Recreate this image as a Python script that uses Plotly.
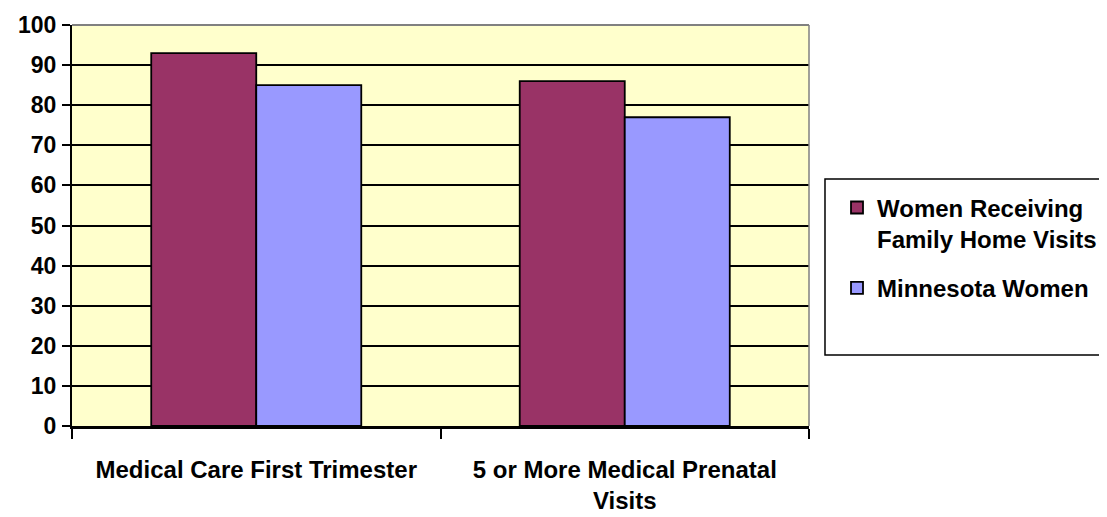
import plotly.graph_objects as go

categories = ["Medical Care First Trimester", "5 or More Medical Prenatal<br>Visits"]
series_names = ["Women Receiving<br>Family Home Visits", "Minnesota Women"]
home_visits = [93, 86]
minnesota = [85, 77]
colors = ["#993366", "#9999FF"]
y_ticks = list(range(0, 101, 10))

FONT = "Liberation Sans, Arial, sans-serif"

fig = go.Figure()
for i, (name, vals) in enumerate(zip(series_names, [home_visits, minnesota])):
    fig.add_trace(go.Bar(
        x=categories, y=vals, name=name,
        marker=dict(color=colors[i], line=dict(color="black", width=1.8)),
        legendgroup=f"g{i}",
    ))

fig.update_layout(
    width=1099, height=509,
    margin=dict(l=64, r=298, t=17, b=91, autoexpand=False),
    paper_bgcolor="white",
    plot_bgcolor="#FFFFCC",
    barmode="group", bargap=0.43, bargroupgap=0,
    font=dict(family=FONT, color="black", weight="bold"),
    showlegend=True,
    legend=dict(
        x=1.038, y=0.60, xanchor="left", yanchor="top",
        bgcolor="rgba(0,0,0,0)", borderwidth=0,
        font=dict(size=24, family=FONT, weight="bold", color="black"),
        valign="top", itemwidth=30, tracegroupgap=15,
        traceorder="grouped",
    ),
    shapes=[
        dict(type="rect", xref="paper", yref="paper", x0=1.0217, x1=1.41, y0=0.177, y1=0.616,
             line=dict(color="black", width=1.5), fillcolor="white", layer="below"),
        dict(type="line", xref="paper", yref="paper", x0=0, x1=1, y0=1, y1=1,
             line=dict(color="#808080", width=2), layer="above"),
        dict(type="line", xref="paper", yref="paper", x0=1, x1=1, y0=0, y1=1,
             line=dict(color="#808080", width=1.5), layer="above"),
    ],
)

fig.update_yaxes(
    range=[0, 100], tickvals=y_ticks,
    showgrid=True, gridcolor="black", gridwidth=1.5,
    ticks="outside", ticklen=8, tickwidth=1.5, tickcolor="black",
    showline=True, linecolor="black", linewidth=2,
    zeroline=False, automargin=False,
    tickfont=dict(size=23, family=FONT, weight="bold", color="black"),
    ticklabelstandoff=1,
)
fig.update_xaxes(
    type="category", tickson="boundaries",
    ticks="outside", ticklen=10, tickwidth=1.5, tickcolor="black",
    showline=True, linecolor="black", linewidth=2.5,
    showgrid=False, automargin=False,
    tickfont=dict(size=24, family=FONT, weight="bold", color="black"),
    ticklabelstandoff=20,
)

fig.write_html("out.html")
